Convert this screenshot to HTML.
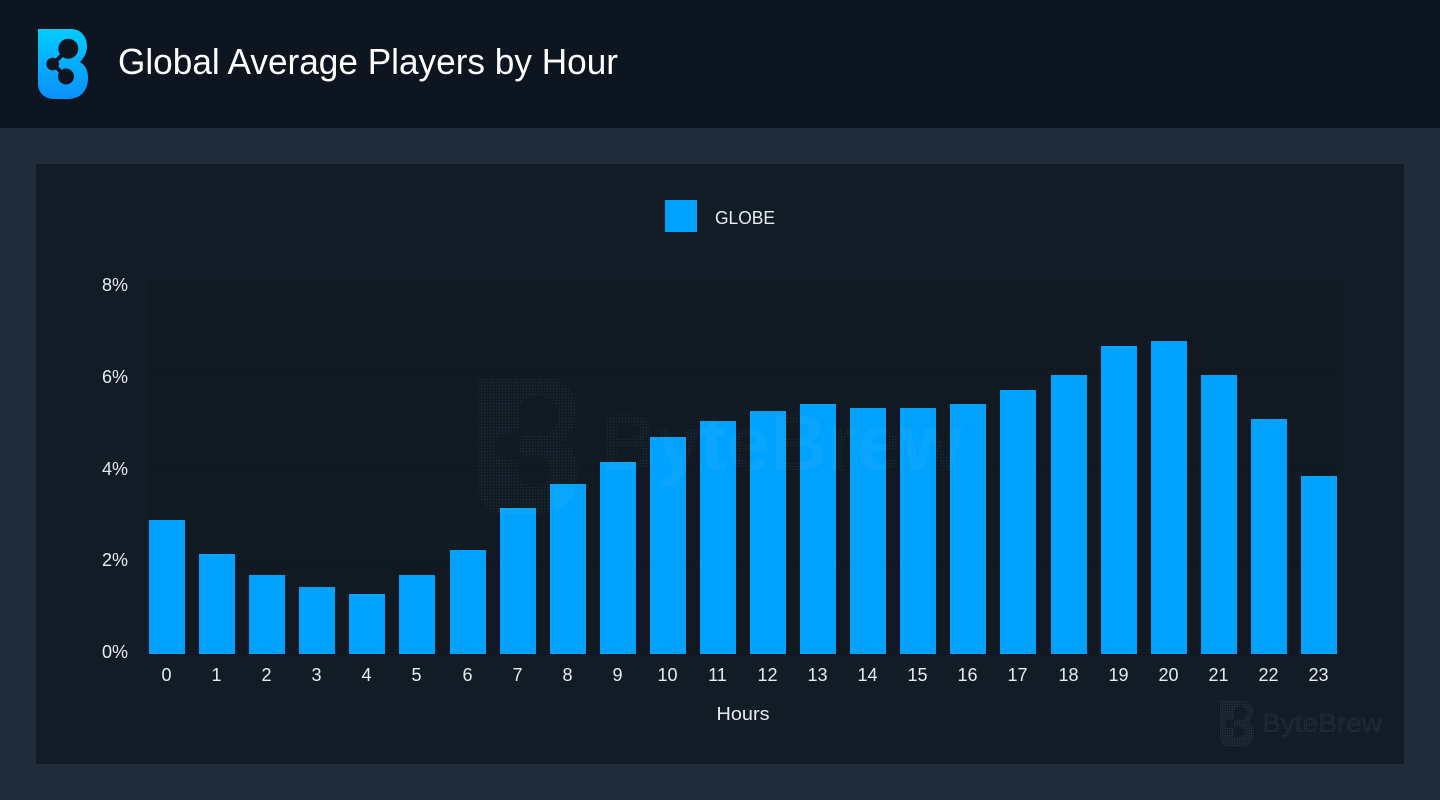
<!DOCTYPE html>
<html lang="en">
<head>
<meta charset="utf-8">
<title>Global Average Players by Hour</title>
<style>
html,body{margin:0;padding:0;background:#202c3a;width:1440px;height:800px;overflow:hidden}
svg{display:block}
text{font-family:"Liberation Sans",sans-serif}
</style>
</head>
<body>
<svg id="chart" xmlns="http://www.w3.org/2000/svg" width="1440" height="800" viewBox="0 0 1440 800">
  <defs>
    <linearGradient id="logoGrad" x1="0" y1="0" x2="0" y2="1">
      <stop offset="0" stop-color="#04ccff"/>
      <stop offset="0.55" stop-color="#06aaff"/>
      <stop offset="1" stop-color="#0b90ff"/>
    </linearGradient>
    <pattern id="dotsBig" width="3" height="3" patternUnits="userSpaceOnUse">
      <circle cx="1.5" cy="1.5" r="0.8" fill="#1e2d3a"/>
    </pattern>
    <pattern id="dotsSmall" width="2.4" height="2.4" patternUnits="userSpaceOnUse">
      <circle cx="1.2" cy="1.2" r="0.8" fill="#293745"/>
    </pattern>
    <mask id="logoMaskBig" maskUnits="userSpaceOnUse" x="470" y="370" width="120" height="150">
      <g transform="translate(477 377) scale(2.02 1.97) translate(-38 -29)">
        <path fill="#fff" d="M38 29H71C81 29 87 37 87 46C87 53 84 58 80 62C85 65 88 70 88 78C88 91 80 99 68 99H54C44 99 38 92 38 84Z"/>
        <g fill="#000">
          <circle cx="68.3" cy="48.7" r="10"/><circle cx="52.7" cy="64" r="6.3"/><circle cx="66" cy="76.5" r="8"/>
          <path stroke="#000" stroke-width="4" fill="none" d="M68 49L53 64L66 77"/>
        </g>
      </g>
    </mask>
    <mask id="logoMaskSmall" maskUnits="userSpaceOnUse" x="1215" y="695" width="45" height="58">
      <g transform="translate(1220 700) scale(0.68 0.67) translate(-38 -29)">
        <path fill="#fff" d="M38 29H71C81 29 87 37 87 46C87 53 84 58 80 62C85 65 88 70 88 78C88 91 80 99 68 99H54C44 99 38 92 38 84Z"/>
        <g fill="#000">
          <circle cx="68.3" cy="48.7" r="10"/><circle cx="52.7" cy="64" r="6.3"/><circle cx="66" cy="76.5" r="8"/>
          <path stroke="#000" stroke-width="4" fill="none" d="M68 49L53 64L66 77"/>
        </g>
      </g>
    </mask>
    <clipPath id="barClip"></clipPath>
  </defs>

  <rect x="0" y="0" width="1440" height="800" fill="#202c3a"/>
  <rect x="0" y="0" width="1440" height="128" fill="#0d1520"/>

  <g>
    <path fill="url(#logoGrad)" d="M38 29H71C81 29 87 37 87 46C87 53 84 58 80 62C85 65 88 70 88 78C88 91 80 99 68 99H54C44 99 38 92 38 84Z"/>
    <g fill="#0d1520">
      <circle cx="68.3" cy="48.7" r="10"/><circle cx="52.7" cy="64" r="6.3"/><circle cx="66" cy="76.5" r="8"/>
      <path stroke="#0d1520" stroke-width="4" fill="none" d="M68 49L53 64L66 77"/>
    </g>
  </g>
  <text x="118" y="74" font-size="36" fill="#ffffff" textLength="500" lengthAdjust="spacingAndGlyphs">Global Average Players by Hour</text>

  <rect x="36" y="164" width="1368" height="600" fill="#121c26"/>

  <rect x="665" y="200" width="32" height="32" fill="#00a2ff"/>
  <text x="715" y="224" font-size="18" fill="#e8ecef" textLength="60" lengthAdjust="spacingAndGlyphs">GLOBE</text>

  <rect x="149" y="282" width="1188" height="372" fill="#111923"/>
  <g id="grid"></g>

  <g>
    <rect x="470" y="370" width="120" height="150" fill="url(#dotsBig)" mask="url(#logoMaskBig)"/>
    <text x="600" y="470" font-size="79" font-weight="bold" fill="url(#dotsBig)" textLength="362" lengthAdjust="spacingAndGlyphs">ByteBrew</text>
  </g>

  <g id="bars"></g>

  <g clip-path="url(#barClip)" opacity="0.04">
    <rect x="470" y="370" width="120" height="150" fill="#fff" mask="url(#logoMaskBig)"/>
    <text x="600" y="470" font-size="79" font-weight="bold" fill="#fff" textLength="362" lengthAdjust="spacingAndGlyphs">ByteBrew</text>
  </g>

  <g id="yTicks"></g>
  <g id="xTicks"></g>
  <text x="743" y="720" font-size="18" fill="#e8ecef" text-anchor="middle" textLength="53" lengthAdjust="spacingAndGlyphs">Hours</text>

  <g>
    <rect x="1215" y="695" width="45" height="58" fill="url(#dotsSmall)" mask="url(#logoMaskSmall)"/>
    <text x="1262" y="732" font-size="26" fill="url(#dotsSmall)" stroke="url(#dotsSmall)" stroke-width="0.8" textLength="120" lengthAdjust="spacingAndGlyphs">ByteBrew</text>
  </g>
</svg>
<script>
var hours = ['0','1','2','3','4','5','6','7','8','9','10','11','12','13','14','15','16','17','18','19','20','21','22','23'];
var globeValues = [2.88,2.15,1.70,1.44,1.29,1.70,2.24,3.14,3.66,4.13,4.67,5.01,5.23,5.38,5.29,5.29,5.38,5.68,6.00,6.62,6.73,6.00,5.05,3.83];
var yTickValues = [0,2,4,6,8];
var yTickSuffix = '%';

var NS = 'http://www.w3.org/2000/svg';
var plotLeft = 149, plotRight = 1337, plotTop = 282, plotBottom = 654, yMax = 8, barWidth = 36;

function yScale(v) {
  return plotBottom - (v / yMax) * (plotBottom - plotTop);
}
function xScale(i) {
  return plotLeft + i * (plotRight - barWidth - plotLeft) / (hours.length - 1);
}
function yLabelBaseline(t) {
  return Math.round(291 + (yMax - t) * 45.875);
}

var gridGroup = document.getElementById('grid');
var barsGroup = document.getElementById('bars');
var yGroup = document.getElementById('yTicks');
var xGroup = document.getElementById('xTicks');
var clip = document.getElementById('barClip');

yTickValues.forEach(function (t) {
  var line = document.createElementNS(NS, 'line');
  
  
  line.setAttribute('x1', plotLeft);
  line.setAttribute('x2', plotRight);
  line.setAttribute('y1', yScale(t) + 0.5);
  line.setAttribute('y2', yScale(t) + 0.5);
  line.setAttribute('stroke', '#0e161f');
  line.setAttribute('stroke-width', '1');
  gridGroup.appendChild(line);

  var label = document.createElementNS(NS, 'text');
  
  
  label.setAttribute('x', 128);
  label.setAttribute('y', yLabelBaseline(t));
  label.setAttribute('font-size', '18');
  label.setAttribute('fill', '#e8ecef');
  label.setAttribute('text-anchor', 'end');
  label.textContent = t + yTickSuffix;
  yGroup.appendChild(label);
});

globeValues.forEach(function (v, i) {
  var top = Math.round(yScale(v));
  var left = Math.round(xScale(i));
  var bar = document.createElementNS(NS, 'rect');
  
  
  bar.setAttribute('x', left);
  bar.setAttribute('y', top);
  bar.setAttribute('width', barWidth);
  bar.setAttribute('height', yScale(0) - top);
  bar.setAttribute('fill', '#00a2ff');
  barsGroup.appendChild(bar);

  var c = document.createElementNS(NS, 'rect');
  c.setAttribute('x', left);
  c.setAttribute('y', top);
  c.setAttribute('width', barWidth);
  c.setAttribute('height', yScale(0) - top);
  clip.appendChild(c);

  var tick = document.createElementNS(NS, 'text');
  
  
  tick.setAttribute('x', left + barWidth / 2 - 0.5);
  tick.setAttribute('y', 681);
  tick.setAttribute('font-size', '18');
  tick.setAttribute('fill', '#e8ecef');
  tick.setAttribute('text-anchor', 'middle');
  tick.textContent = hours[i];
  xGroup.appendChild(tick);
});
</script>
</body>
</html>
